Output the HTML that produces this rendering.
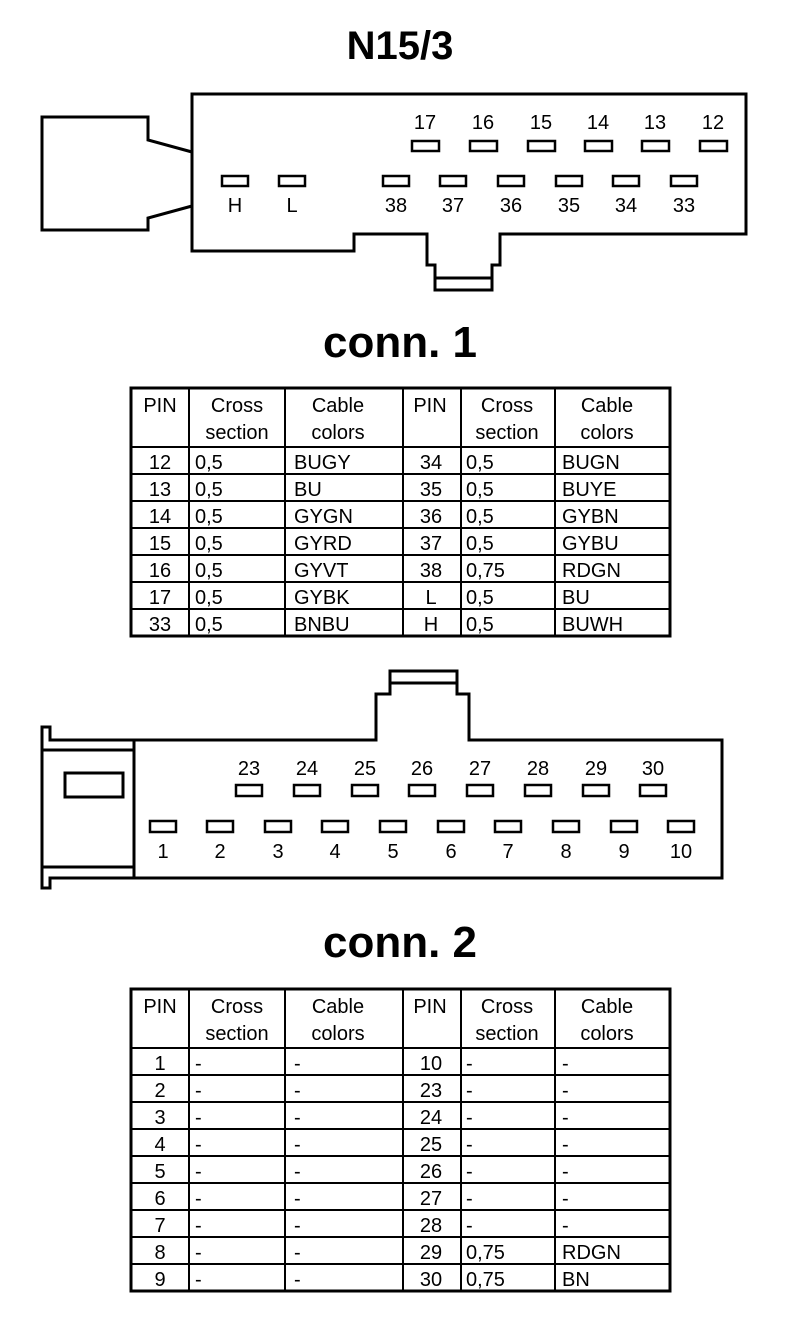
<!DOCTYPE html>
<html><head><meta charset="utf-8"><style>
html,body{margin:0;padding:0;background:#fff;}
svg{display:block;}
text{font-family:"Liberation Sans",Arial,sans-serif;fill:#000;}
.t{font-size:20px;}
.p{font-size:20px;text-anchor:middle;}
.h{font-weight:bold;text-anchor:middle;}
</style></head><body>
<svg width="800" height="1344" viewBox="0 0 800 1344" xmlns="http://www.w3.org/2000/svg">
<g fill="none" stroke="#000" stroke-width="3">
<!-- top connector -->
<path d="M192,94 H746 V234 H500 V265 H492 V290 H435 V265 H427 V234 H354 V251 H192 Z"/>
<line x1="435" y1="278" x2="492" y2="278"/>
<path d="M192,152 L148,140 V117 H42 V230 H148 V218 L192,206"/>
<!-- bottom connector -->
<path d="M134,740 H376 V694 H390 V671 H457 V694 H469 V740 H722 V878 H50 V888 H42 V727 H50 V740 H134 V878"/>
<line x1="390" y1="683" x2="457" y2="683"/>
<line x1="42" y1="750" x2="134" y2="750"/>
<line x1="42" y1="867" x2="134" y2="867"/>
<rect x="65" y="773" width="58" height="24"/>
</g>
<g fill="none" stroke="#000" stroke-width="2.5">
<rect x="412" y="141" width="27" height="10"/><rect x="470" y="141" width="27" height="10"/><rect x="528" y="141" width="27" height="10"/><rect x="585" y="141" width="27" height="10"/><rect x="642" y="141" width="27" height="10"/><rect x="700" y="141" width="27" height="10"/>
<rect x="222" y="176" width="26" height="10"/><rect x="279" y="176" width="26" height="10"/><rect x="383" y="176" width="26" height="10"/><rect x="440" y="176" width="26" height="10"/><rect x="498" y="176" width="26" height="10"/><rect x="556" y="176" width="26" height="10"/><rect x="613" y="176" width="26" height="10"/><rect x="671" y="176" width="26" height="10"/>
<rect x="236" y="785" width="26" height="11"/><rect x="294" y="785" width="26" height="11"/><rect x="352" y="785" width="26" height="11"/><rect x="409" y="785" width="26" height="11"/><rect x="467" y="785" width="26" height="11"/><rect x="525" y="785" width="26" height="11"/><rect x="583" y="785" width="26" height="11"/><rect x="640" y="785" width="26" height="11"/>
<rect x="150" y="821" width="26" height="11"/><rect x="207" y="821" width="26" height="11"/><rect x="265" y="821" width="26" height="11"/><rect x="322" y="821" width="26" height="11"/><rect x="380" y="821" width="26" height="11"/><rect x="438" y="821" width="26" height="11"/><rect x="495" y="821" width="26" height="11"/><rect x="553" y="821" width="26" height="11"/><rect x="611" y="821" width="26" height="11"/><rect x="668" y="821" width="26" height="11"/>
</g>
<g class="p">
<text class="p" x="425" y="129">17</text><text class="p" x="483" y="129">16</text><text class="p" x="541" y="129">15</text><text class="p" x="598" y="129">14</text><text class="p" x="655" y="129">13</text><text class="p" x="713" y="129">12</text>
<text class="p" x="235" y="212">H</text><text class="p" x="292" y="212">L</text><text class="p" x="396" y="212">38</text><text class="p" x="453" y="212">37</text><text class="p" x="511" y="212">36</text><text class="p" x="569" y="212">35</text><text class="p" x="626" y="212">34</text><text class="p" x="684" y="212">33</text>
<text class="p" x="249" y="775">23</text><text class="p" x="307" y="775">24</text><text class="p" x="365" y="775">25</text><text class="p" x="422" y="775">26</text><text class="p" x="480" y="775">27</text><text class="p" x="538" y="775">28</text><text class="p" x="596" y="775">29</text><text class="p" x="653" y="775">30</text>
<text class="p" x="163" y="858">1</text><text class="p" x="220" y="858">2</text><text class="p" x="278" y="858">3</text><text class="p" x="335" y="858">4</text><text class="p" x="393" y="858">5</text><text class="p" x="451" y="858">6</text><text class="p" x="508" y="858">7</text><text class="p" x="566" y="858">8</text><text class="p" x="624" y="858">9</text><text class="p" x="681" y="858">10</text>
</g>
<text class="h" x="400" y="59" font-size="40">N15/3</text>
<text class="h" x="400" y="357" font-size="44">conn. 1</text>
<text class="h" x="400" y="957" font-size="44">conn. 2</text>

<!-- table 1 -->
<g stroke="#000" stroke-width="3" fill="none">
<rect x="131" y="388" width="539" height="248"/>
<rect x="131" y="989" width="539" height="302"/>
</g>
<g stroke="#000" stroke-width="2">
<line x1="189" y1="388" x2="189" y2="636"/><line x1="285" y1="388" x2="285" y2="636"/><line x1="403" y1="388" x2="403" y2="636"/><line x1="461" y1="388" x2="461" y2="636"/><line x1="555" y1="388" x2="555" y2="636"/>
<line x1="131" y1="447" x2="670" y2="447"/><line x1="131" y1="474" x2="670" y2="474"/><line x1="131" y1="501" x2="670" y2="501"/><line x1="131" y1="528" x2="670" y2="528"/><line x1="131" y1="555" x2="670" y2="555"/><line x1="131" y1="582" x2="670" y2="582"/><line x1="131" y1="609" x2="670" y2="609"/>
<line x1="189" y1="989" x2="189" y2="1291"/><line x1="285" y1="989" x2="285" y2="1291"/><line x1="403" y1="989" x2="403" y2="1291"/><line x1="461" y1="989" x2="461" y2="1291"/><line x1="555" y1="989" x2="555" y2="1291"/>
<line x1="131" y1="1048" x2="670" y2="1048"/><line x1="131" y1="1075" x2="670" y2="1075"/><line x1="131" y1="1102" x2="670" y2="1102"/><line x1="131" y1="1129" x2="670" y2="1129"/><line x1="131" y1="1156" x2="670" y2="1156"/><line x1="131" y1="1183" x2="670" y2="1183"/><line x1="131" y1="1210" x2="670" y2="1210"/><line x1="131" y1="1237" x2="670" y2="1237"/><line x1="131" y1="1264" x2="670" y2="1264"/>
</g>
<g class="p">
<text class="p" x="160" y="412">PIN</text><text class="p" x="237" y="412">Cross</text><text class="p" x="237" y="439">section</text><text class="p" x="338" y="412">Cable</text><text class="p" x="338" y="439">colors</text>
<text class="p" x="430" y="412">PIN</text><text class="p" x="507" y="412">Cross</text><text class="p" x="507" y="439">section</text><text class="p" x="607" y="412">Cable</text><text class="p" x="607" y="439">colors</text>
<text class="p" x="160" y="1013">PIN</text><text class="p" x="237" y="1013">Cross</text><text class="p" x="237" y="1040">section</text><text class="p" x="338" y="1013">Cable</text><text class="p" x="338" y="1040">colors</text>
<text class="p" x="430" y="1013">PIN</text><text class="p" x="507" y="1013">Cross</text><text class="p" x="507" y="1040">section</text><text class="p" x="607" y="1013">Cable</text><text class="p" x="607" y="1040">colors</text>
</g>
<g class="t">
<!-- rows table 1 -->
<text class="p" x="160" y="469">12</text><text x="195" y="469">0,5</text><text x="294" y="469">BUGY</text><text class="p" x="431" y="469">34</text><text x="466" y="469">0,5</text><text x="562" y="469">BUGN</text>
<text class="p" x="160" y="496">13</text><text x="195" y="496">0,5</text><text x="294" y="496">BU</text><text class="p" x="431" y="496">35</text><text x="466" y="496">0,5</text><text x="562" y="496">BUYE</text>
<text class="p" x="160" y="523">14</text><text x="195" y="523">0,5</text><text x="294" y="523">GYGN</text><text class="p" x="431" y="523">36</text><text x="466" y="523">0,5</text><text x="562" y="523">GYBN</text>
<text class="p" x="160" y="550">15</text><text x="195" y="550">0,5</text><text x="294" y="550">GYRD</text><text class="p" x="431" y="550">37</text><text x="466" y="550">0,5</text><text x="562" y="550">GYBU</text>
<text class="p" x="160" y="577">16</text><text x="195" y="577">0,5</text><text x="294" y="577">GYVT</text><text class="p" x="431" y="577">38</text><text x="466" y="577">0,75</text><text x="562" y="577">RDGN</text>
<text class="p" x="160" y="604">17</text><text x="195" y="604">0,5</text><text x="294" y="604">GYBK</text><text class="p" x="431" y="604">L</text><text x="466" y="604">0,5</text><text x="562" y="604">BU</text>
<text class="p" x="160" y="631">33</text><text x="195" y="631">0,5</text><text x="294" y="631">BNBU</text><text class="p" x="431" y="631">H</text><text x="466" y="631">0,5</text><text x="562" y="631">BUWH</text>
<!-- rows table 2 -->
<text class="p" x="160" y="1070">1</text><text x="195" y="1070">-</text><text x="294" y="1070">-</text><text class="p" x="431" y="1070">10</text><text x="466" y="1070">-</text><text x="562" y="1070">-</text>
<text class="p" x="160" y="1097">2</text><text x="195" y="1097">-</text><text x="294" y="1097">-</text><text class="p" x="431" y="1097">23</text><text x="466" y="1097">-</text><text x="562" y="1097">-</text>
<text class="p" x="160" y="1124">3</text><text x="195" y="1124">-</text><text x="294" y="1124">-</text><text class="p" x="431" y="1124">24</text><text x="466" y="1124">-</text><text x="562" y="1124">-</text>
<text class="p" x="160" y="1151">4</text><text x="195" y="1151">-</text><text x="294" y="1151">-</text><text class="p" x="431" y="1151">25</text><text x="466" y="1151">-</text><text x="562" y="1151">-</text>
<text class="p" x="160" y="1178">5</text><text x="195" y="1178">-</text><text x="294" y="1178">-</text><text class="p" x="431" y="1178">26</text><text x="466" y="1178">-</text><text x="562" y="1178">-</text>
<text class="p" x="160" y="1205">6</text><text x="195" y="1205">-</text><text x="294" y="1205">-</text><text class="p" x="431" y="1205">27</text><text x="466" y="1205">-</text><text x="562" y="1205">-</text>
<text class="p" x="160" y="1232">7</text><text x="195" y="1232">-</text><text x="294" y="1232">-</text><text class="p" x="431" y="1232">28</text><text x="466" y="1232">-</text><text x="562" y="1232">-</text>
<text class="p" x="160" y="1259">8</text><text x="195" y="1259">-</text><text x="294" y="1259">-</text><text class="p" x="431" y="1259">29</text><text x="466" y="1259">0,75</text><text x="562" y="1259">RDGN</text>
<text class="p" x="160" y="1286">9</text><text x="195" y="1286">-</text><text x="294" y="1286">-</text><text class="p" x="431" y="1286">30</text><text x="466" y="1286">0,75</text><text x="562" y="1286">BN</text>
</g>
</svg>
</body></html>
